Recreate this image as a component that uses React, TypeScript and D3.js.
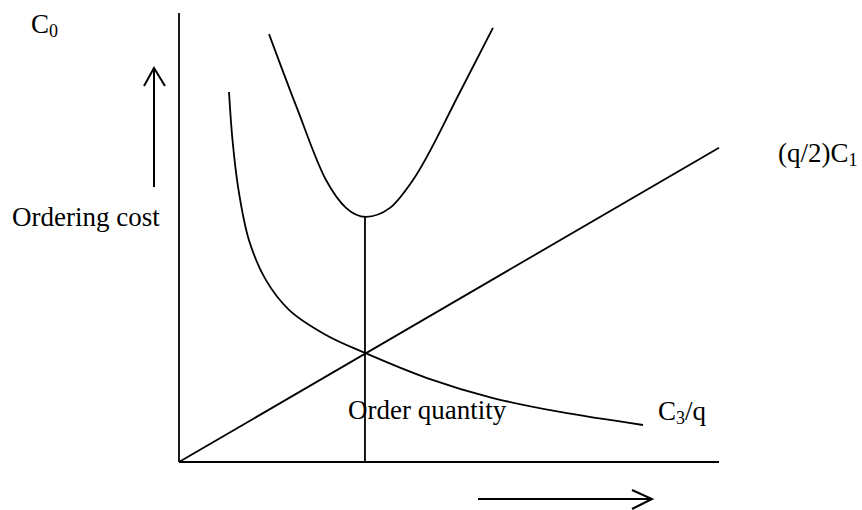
import React from "react";
import * as d3 from "d3";

// Data (chart units: x = order quantity 0..100, y = cost 0..100)
const axisDomainX = [0, 100];
const axisDomainY = [0, 100];
const holdingCostLine: [number, number][] = [
  [0, 0],
  [100, 70],
];
const orderingCostCurve: [number, number][] = [
  [9.26, 82.4],
  [9.91, 71.7],
  [11.02, 60.6],
  [12.96, 49.4],
  [16.11, 40.5],
  [20.37, 33.9],
  [27.22, 28.3],
  [34.44, 24.3],
  [45.93, 18.7],
  [58.15, 14.25],
  [70.56, 11.14],
  [85.93, 8.24],
];
const totalCostCurve: [number, number][] = [
  [16.67, 95.3],
  [21.85, 78.8],
  [27.22, 62.8],
  [30.93, 56.6],
  [34.6, 54.6],
  [39.07, 56.6],
  [43.33, 62.8],
  [52.04, 82.4],
  [58.15, 96.7],
];
const optimumQ = 34.44;
const optimumTotal = 54.6;

const W = 862;
const H = 510;
const FONT = "'Liberation Serif', 'Times New Roman', serif";
const FS = 27;
const SUB = 18;

export default function App() {
  const x = d3.scaleLinear().domain(axisDomainX).range([179, 719]);
  const y = d3.scaleLinear().domain(axisDomainY).range([462, 13]);
  const smoothLine = d3
    .line<[number, number]>()
    .x((d) => x(d[0]))
    .y((d) => y(d[1]))
    .curve(d3.curveCatmullRom.alpha(0.5));
  const bowlLine = d3
    .line<[number, number]>()
    .x((d) => x(d[0]))
    .y((d) => y(d[1]))
    .curve(d3.curveMonotoneX);
  const straight = d3
    .line<[number, number]>()
    .x((d) => x(d[0]))
    .y((d) => y(d[1]));

  const stroke = { stroke: "#000", strokeWidth: 1.8, fill: "none" };

  return (
    <svg
      width={W}
      height={H}
      style={{ position: "absolute", left: 0, top: 0, background: "#fff" }}
      fontFamily={FONT}
    >
      {/* axes */}
      <line x1={x(0)} y1={y(0)} x2={x(0)} y2={y(100)} {...stroke} />
      <line x1={x(0)} y1={y(0)} x2={x(100)} y2={y(0)} {...stroke} />

      {/* curves */}
      <path d={straight(holdingCostLine) || ""} {...stroke} />
      <path d={smoothLine(orderingCostCurve) || ""} {...stroke} />
      <path d={bowlLine(totalCostCurve) || ""} {...stroke} />
      <line
        x1={x(optimumQ)}
        y1={y(0)}
        x2={x(optimumQ)}
        y2={y(optimumTotal)}
        {...stroke}
      />

      {/* arrows */}
      <g stroke="#000" strokeWidth={2} fill="none">
        <line x1={154} y1={187} x2={154} y2={69} />
        <polyline points="144,86 154,68 165,86" />
        <line x1={478} y1={499} x2={651} y2={499} />
        <polyline points="632,490 652,499 632,509" />
      </g>

      {/* labels */}
      <g fill="#000" fontSize={FS}>
        <text x={31} y={33}>
          C<tspan fontSize={SUB} dy={4}>0</tspan>
        </text>
        <text x={12} y={226}>Ordering cost</text>
        <text x={778} y={162}>
          (q/2)C<tspan fontSize={SUB} dy={4}>1</tspan>
        </text>
        <text x={348} y={419}>Order quantity</text>
        <text x={658} y={420}>
          C<tspan fontSize={SUB} dy={4}>3</tspan>
          <tspan dy={-4}>/q</tspan>
        </text>
      </g>
    </svg>
  );
}
